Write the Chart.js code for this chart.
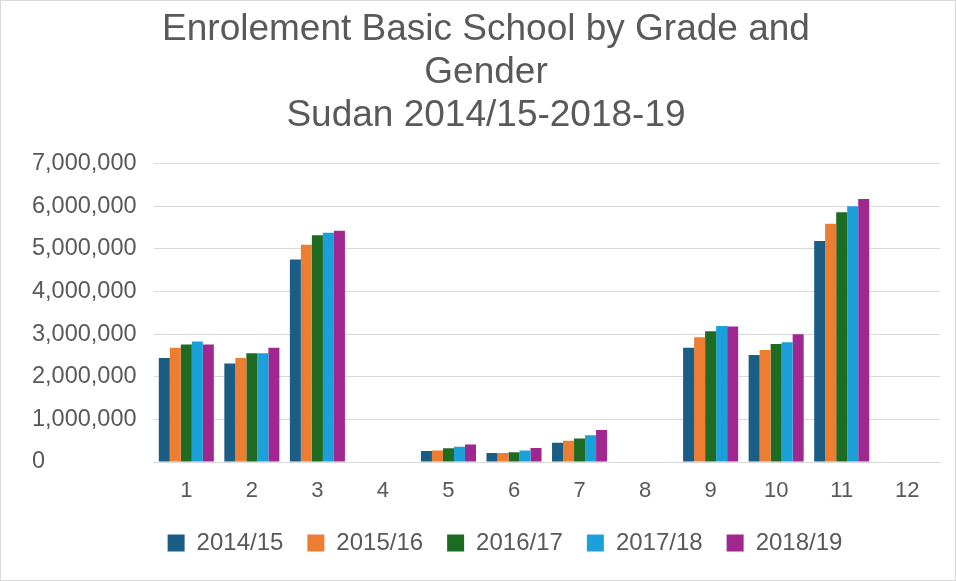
<!DOCTYPE html>
<html>
<head>
<meta charset="utf-8">
<script src="https://cdn.jsdelivr.net/npm/chart.js@4"></script>
<style>
  html, body { margin: 0; padding: 0; background: #fff; }
  #wrap { width: 954px; height: 579px; border: 1px solid #d9d9d9; }
</style>
</head>
<body>
<div id="wrap"><canvas id="enrolChart" width="954" height="579"></canvas></div>
<script>
// Grades 1-12 (4, 8 and 12 have no data)
const grades = ['1', '2', '3', '4', '5', '6', '7', '8', '9', '10', '11', '12'];
const years = ['2014/15', '2015/16', '2016/17', '2017/18', '2018/19'];

// Enrolment values
const enrol1415 = [2440000, 2310000, 4750000, null, 260000, 210000, 450000, null, 2680000, 2510000, 5190000, null];
const enrol1516 = [2680000, 2440000, 5100000, null, 270000, 210000, 500000, null, 2930000, 2630000, 5590000, null];
const enrol1617 = [2760000, 2550000, 5320000, null, 320000, 230000, 550000, null, 3070000, 2770000, 5860000, null];
const enrol1718 = [2830000, 2550000, 5380000, null, 360000, 270000, 630000, null, 3190000, 2810000, 6000000, null];
const enrol1819 = [2760000, 2680000, 5430000, null, 410000, 330000, 750000, null, 3180000, 3000000, 6170000, null];

const seriesColors = ['#1b5e85', '#ed7d31', '#1e6b24', '#1ca0da', '#a0278f'];
const seriesValues = [enrol1415, enrol1516, enrol1617, enrol1718, enrol1819];

const textColor = '#595959';
const fontFamily = '"Liberation Sans", Arial, sans-serif';

// nudge the legend a little to the right, like the original
const legendShift = {
    id: 'legendShift',
    afterLayout(chart) {
        chart.legend.left += 19;
        chart.legend.right += 19;
    }
};

new Chart(document.getElementById('enrolChart'), {
    type: 'bar',
    data: {
        labels: grades,
        datasets: years.map((y, i) => ({
            label: y,
            data: seriesValues[i],
            backgroundColor: seriesColors[i],
            categoryPercentage: 0.84,
            barPercentage: 1.0
        }))
    },
    plugins: [legendShift],
    options: {
        responsive: false,
        animation: false,
        layout: { padding: { left: 31, right: 15, top: 0, bottom: 15 } },
        plugins: {
            title: {
                display: true,
                text: ['Enrolement Basic School by Grade and', 'Gender', 'Sudan 2014/15-2018-19'],
                color: textColor,
                font: { family: fontFamily, size: 37, weight: 'normal', lineHeight: 1.16 },
                padding: { top: 7, bottom: 27 }
            },
            legend: {
                position: 'bottom',
                labels: {
                    color: textColor,
                    font: { family: fontFamily, size: 24 },
                    boxWidth: 17,
                    boxHeight: 17,
                    padding: 24
                }
            },
            tooltip: { enabled: false }
        },
        scales: {
            x: {
                grid: { display: true, drawOnChartArea: false, drawTicks: false },
                border: { color: '#d9d9d9' },
                ticks: {
                    color: textColor,
                    font: { family: fontFamily, size: 22, lineHeight: 1.0 },
                    padding: 18
                },
                afterFit: s => { s.height -= 13; }
            },
            y: {
                min: 0,
                max: 7000000,
                border: { display: false },
                grid: { color: '#d9d9d9', drawTicks: false },
                ticks: {
                    stepSize: 1000000,
                    color: textColor,
                    font: { family: fontFamily, size: 23.5 },
                    padding: 8.5,
                    crossAlign: 'far',
                    callback: v => v.toLocaleString('en-US')
                }
            }
        }
    }
});
</script>
</body>
</html>
